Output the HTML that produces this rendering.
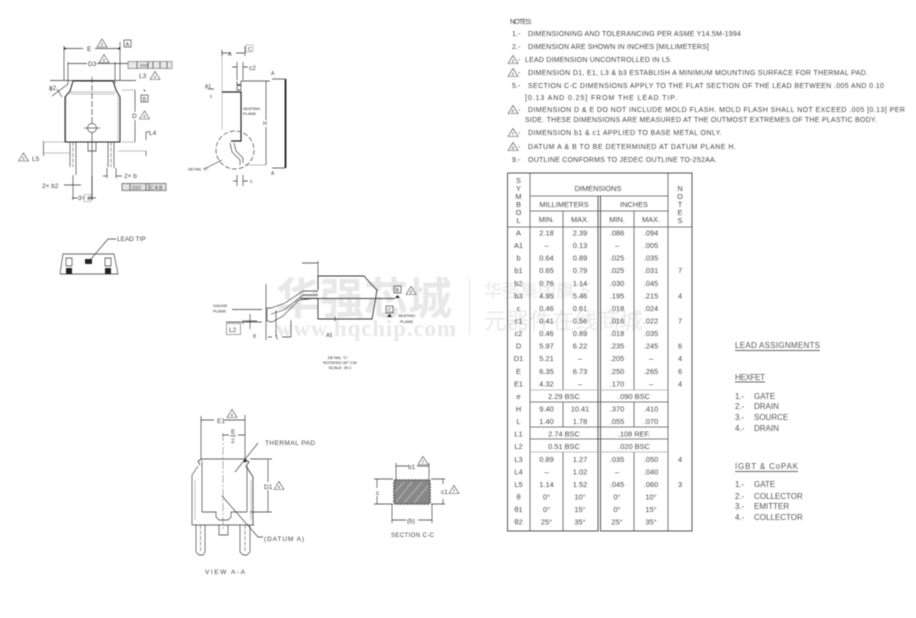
<!DOCTYPE html>
<html><head><meta charset="utf-8">
<style>
html,body{margin:0;padding:0;background:#fff;width:916px;height:618px;overflow:hidden}
svg{display:block;filter:blur(.5px)}
text{font-family:"Liberation Sans","Noto Sans CJK SC",sans-serif;fill:#444;font-size:6.500px}
.n text{font-size:7px;fill:#444;letter-spacing:.1px}
.t text{font-size:7.400px;text-anchor:middle;fill:#484848}
.l text{font-size:8px;fill:#555}
.s text{font-size:4px;fill:#222}
.m text{text-anchor:middle}
.k{fill:none;stroke:#333;stroke-width:.65}
.d{fill:none;stroke:#444;stroke-width:.55;stroke-dasharray:4 1.500}
.g{fill:none;stroke:#aaa;stroke-width:.7}
.b{fill:none;stroke:#222;stroke-width:1}
.tri{fill:#fff;stroke:#444;stroke-width:.6}
</style></head><body>
<svg width="916" height="618" viewBox="0 0 916 618" xmlns="http://www.w3.org/2000/svg">
<defs>
<g id="tr"><path class="tri" d="M-5 3.500L0-4.500 5 3.500Z"/></g>
</defs>

<!-- watermark -->
<g>
<text x="276" y="314" style="font-size:44px;font-weight:bold;fill:#e8e8e8;font-family:'Noto Sans CJK SC',sans-serif">华强芯城</text>
<text x="276" y="336" style="font-size:23px;font-weight:bold;fill:#e8e8e8;font-family:'Liberation Serif',serif" textLength="180">www.hqchip.com</text>
<line x1="469.500" y1="278" x2="469.500" y2="335" stroke="#e8e8e8"/>
<text x="484" y="297" style="font-size:18px;fill:#e9e9e9;font-family:'Noto Sans CJK SC',sans-serif">华强集团旗下</text>
<text x="484" y="329" style="font-size:22.700px;fill:#e9e9e9;font-family:'Noto Sans CJK SC',sans-serif">元器件在线商城</text>
</g>

<!-- main top view -->
<g>
<path class="g" d="M66 96V142M118 96V142M69 92H115M69 94H115M122 90H135M122 142H135M44 142H70M44 153H70M118 151H146"/>
<path class="k" d="M64 46V80M120 42V80M64 48.500H83M95 48.500H120M68 62V84M115 62V84M68 63.500H87M97 63.500H128M50 80.500H136"/>
<path class="b" d="M65 142V97L70 91 73 81H113L116 90 120 97V142H65"/>
<path class="k" d="M52 96L68 84M57 89L62 97"/>
<path class="k" d="M92 77V124" stroke-dasharray="6 2"/>
<path class="k" d="M92 133V200"/>
<circle class="k" cx="92" cy="128" r="4.500"/><path class="k" d="M84 128H100"/>
<path class="k" d="M70 142V167M76 142V175M108 142V167M114 142V168M88 142V151H96V142"/>
<path class="d" d="M73 142V167M111 142V167"/>
<path class="k" d="M135 90V112M135 120V142M146 132V140M146 151V156M43.500 141V156M146 132H149M73 175V200M92 176V200M68 185H78M107 168V178M116 168V178M103 176H107M116 176H122M64 185H70M75 185H81M72 198H78M88 198H96"/>
<path d="M117 48.500l3-1.200v2.400zM67 48.500l-3-1.200v2.400z" fill="#222"/>
<g transform="translate(102 43.500)"><use href="#tr"/></g><text x="100.500" y="46" style="font-size:4.500px">3</text>
<g transform="translate(104 59)"><use href="#tr"/></g><text x="102.500" y="61.500" style="font-size:4.500px">4</text>
<g transform="translate(155 76)"><use href="#tr"/></g><text x="153.500" y="78.500" style="font-size:4.500px">4</text>
<g transform="translate(144.500 115.500)"><use href="#tr"/></g><text x="143" y="118" style="font-size:4.500px">4</text>
<g transform="translate(23.500 157.500)"><use href="#tr"/></g><text x="22" y="160" style="font-size:4.500px">3</text>
<text x="87" y="51">E</text><text x="88" y="66">D3</text>
<text x="139" y="78">L3</text><text x="132" y="118">D</text><text x="149" y="135">L4</text><text x="32" y="161">L5</text>
<text x="49" y="90">ϕ2</text>
<rect x="124" y="40" width="7" height="7" class="k"/><text x="125.500" y="46" style="font-size:5.500px">A</text>
<rect x="141" y="95" width="7" height="7" class="k"/><text x="142.500" y="101" style="font-size:5.500px">B</text>
<path d="M143.500 90h2l-1 1.500z" fill="#111"/>
<rect x="128" y="61.500" width="44" height="7" fill="#e8e8e8" stroke="#444" stroke-width=".5"/>
<path class="k" d="M137 61.500v7M148 61.500v7M153 61.500v7M160 61.500v7M167 61.500v7"/>
<text x="139" y="67" style="font-size:4.500px">.010</text>
<text x="42" y="188">2× b2</text><text x="124" y="178">2× b</text><text x="78" y="200">3× e</text>
<rect x="122" y="183.500" width="44" height="7" fill="#e4e4e4" stroke="#333" stroke-width=".6"/>
<path class="k" d="M130 183.500v7M146 183.500v7M149 183.500v7"/>
<text x="131" y="189.500" style="font-size:5px">.010</text><text x="150" y="189.500" style="font-size:5px">C A B</text>
<rect x="84" y="194.500" width="7" height="7" class="g"/>
</g>

<!-- lead tip -->
<g>
<path class="k" d="M60 274L63 254H114L118 274H60"/>
<path class="k" d="M66 258H72V266H66ZM105 258H111V266H105Z"/>
<rect x="66" y="268" width="6" height="6" fill="#222"/><rect x="105" y="268" width="6" height="6" fill="#222"/>
<rect x="85" y="259" width="7" height="5" fill="#222"/>
<path class="k" d="M91 259L108 239H116"/>
<text x="117" y="241" style="font-size:6.500px">LEAD TIP</text>
</g>

<!-- side view -->
<g>
<path class="g" d="M222 92V130M222 50V92M245 165H266"/>
<path class="k" d="M222 50V56M222 53H231M236 53H245M245 46V56M237 62V80M243 62V80M232 67H237M243 67H248M241 81H270M266 81V120M266 127V165M272 79H285M272 168H285M237 175V186M243 175V186M233 181H237M243 181H248M208 89H214M211 95V98M237 81V90M241 81V90H237"/>
<rect x="237" y="84" width="4" height="2" fill="#666"/>
<path class="b" style="stroke-width:1.200" d="M222 92H241V141H231"/>
<path style="fill:none;stroke:#111;stroke-width:1.700" d="M285.500 79V168"/>
<path class="k" d="M230 143L232 152 240 160V165M234 143L236 151 243 158 243 163"/>
<circle cx="235" cy="150" r="19" fill="none" stroke="#444" stroke-width=".7" stroke-dasharray="5 2"/>
<path class="k" d="M204 169L222 160"/>
<text x="228" y="56" style="font-size:5.500px">A</text><rect x="246" y="45" width="7" height="7" class="g"/><text x="248" y="51" style="font-size:5.500px">C</text>
<text x="249" y="70">c2</text><text x="205" y="88" style="font-size:5.500px">ϕ1</text>
<g class="s"><text x="243" y="110">SEATING</text><text x="243" y="115">PLANE</text><text x="188" y="170.500">DETAIL "C"</text></g>
<text x="263" y="125" style="font-size:5.500px">H</text><text x="271" y="75" style="font-size:5px">A</text><text x="271" y="175" style="font-size:5px">A</text><text x="250" y="183" style="font-size:5.500px">c</text>
</g>

<!-- detail view -->
<g>
<path class="k" d="M318 261V276M302 263H318"/>
<path class="k" style="stroke-width:.9" d="M318 290V276H364L372 285 377 290 372 319H318V298"/>
<path style="fill:none;stroke:#444;stroke-width:1" d="M300 298.500H395"/>
<path class="k" d="M318 291H303L285 303 271 308H267V321L272 322 283 316 299 300 318 298"/>
<path class="k" d="M318 295H303L284 310 271 314"/>
<path class="k" d="M266 284V340M276 337V310M291 337V320M232 309.500H262M243 320V324M226 322H262M250 314V329M244 321H257M268 337H272M282 337H291M335 316V321"/>
<rect x="226.500" y="323.500" width="14" height="11" fill="#fff" stroke="#666" stroke-width=".6"/>
<text x="229" y="332" style="font-size:6.500px">L2</text>
<g class="s"><text x="213" y="307">GAUGE</text><text x="213" y="312.500">PLANE</text><text x="398" y="317">SEATING</text><text x="400" y="323">PLANE</text></g>
<text x="253" y="338" style="font-size:5.500px">θ</text><text x="276" y="339" style="font-size:5.500px">L</text><text x="326" y="337" style="font-size:5.500px">A1</text>
<rect x="394" y="286" width="7" height="7" class="k"/><text x="395.500" y="292" style="font-size:5.500px">B</text>
<g transform="translate(411 291)"><use href="#tr"/></g><text x="409.500" y="293.500" style="font-size:4.500px">8</text>
<rect x="386" y="306" width="7" height="7" class="k"/><text x="387.500" y="312" style="font-size:5.500px">C</text>
<path d="M387 317h5l-2.500-3zM395 298h5l-2.500-3z" fill="#222"/>
<g class="s m"><text x="338" y="359">DETAIL "C"</text><text x="340" y="364">ROTATED 90° CW</text><text x="340" y="369">SCALE: 30:1</text></g>
</g>

<!-- view A-A -->
<g>
<path class="k" d="M201 416V460M245 415V460M201 420H214M224 420H245M222 435H229M238 435H245"/>
<path d="M223 433V530" fill="none" stroke="#777" stroke-width=".6" stroke-dasharray="8 2 2 2"/>
<path class="k" style="stroke-width:.8" d="M200 465L198 461 202 459H245L249 462 246 466 253 477V525"/>
<path class="k" d="M202 461V512M247 466V512M202 512H216V517L219 520H228L231 517V512H247M192 475V525M192 525H254M198 466L192 475"/>
<path class="g" d="M195 480V520M251 480V520"/>
<path class="k" d="M196 525V552L199 555H203L205 552V525M240 525V552L243 555H247L250 552V525M219 525V535H228V525"/>
<path class="d" d="M200.500 525V552M245 525V552"/>
<path class="k" d="M250 459H272M250 512H272M268 460V482M268 490V512"/>
<path class="k" d="M235 472L258 443"/><path class="k" d="M222 496L258 537H263"/>
<circle cx="245" cy="461" r="1.500" fill="#333"/>
<text x="217" y="423">E1</text><text x="231" y="434">E</text><line x1="230" y1="436" x2="236" y2="436" class="k"/><text x="231" y="443">2</text>
<g transform="translate(232 414)"><use href="#tr"/></g><text x="230.500" y="416.500" style="font-size:4.500px">4</text>
<text x="265" y="445" textLength="50">THERMAL PAD</text><text x="264" y="541" textLength="40">(DATUM A)</text>
<text x="264" y="489">D1</text><g transform="translate(279 486)"><use href="#tr"/></g><text x="277.500" y="488.500" style="font-size:4.500px">4</text>
<text x="205" y="574" textLength="40">VIEW A-A</text>
</g>

<!-- section C-C -->
<g>
<rect x="394" y="480" width="36" height="24" rx="2" fill="#888" stroke="#555" stroke-width="1.600" stroke-dasharray="2 1"/>
<path d="M396 502L412 482M404 503L422 482M414 503L428 486M395 492L404 482" stroke="#c4c4c4" stroke-width=".8" fill="none"/>
<path class="k" d="M396 463V480M429 463V480M396 466H408M417 466H429M374 479H393M374 504H393M377 479V488M377 496V504M392 504V523M432 504V523M392 520H406M418 520H432M431 479H445M431 504H445M443 479V484M443 499V504"/>
<text x="408" y="469">b1</text><g transform="translate(423 461)"><use href="#tr"/></g><text x="421.500" y="463.500" style="font-size:4.500px">7</text>
<text x="376" y="495">c</text><text x="441" y="494">c1</text><g transform="translate(454 490)"><use href="#tr"/></g><text x="452.500" y="492.500" style="font-size:4.500px">7</text>
<text x="407" y="523">(b)</text><text x="391" y="537" textLength="43" style="font-size:6px">SECTION C-C</text>
</g>

<!-- notes -->
<g class="n">
<text x="510" y="24" textLength="22">NOTES:</text>
<text x="512" y="36">1.-</text><text x="528" y="36" textLength="213">DIMENSIONING AND TOLERANCING PER ASME Y14.5M-1994</text>
<text x="512" y="49">2.-</text><text x="528" y="49" textLength="181">DIMENSION ARE SHOWN IN INCHES [MILLIMETERS]</text>
<text x="518" y="62">-</text><text x="525" y="62" textLength="147">LEAD DIMENSION UNCONTROLLED IN L5.</text>
<text x="518" y="75">-</text><text x="528" y="75" textLength="340">DIMENSION D1, E1, L3 &amp; b3 ESTABLISH A MINIMUM MOUNTING SURFACE FOR THERMAL PAD.</text>
<text x="512" y="88">5.-</text><text x="528" y="88" textLength="356">SECTION C-C DIMENSIONS APPLY TO THE FLAT SECTION OF THE LEAD BETWEEN .005 AND 0.10</text>
<text x="525" y="100" textLength="152">[0.13 AND 0.25] FROM THE LEAD TIP.</text>
<text x="518" y="112">-</text><text x="528" y="112" textLength="377">DIMENSION D &amp; E DO NOT INCLUDE MOLD FLASH. MOLD FLASH SHALL NOT EXCEED .005 [0.13] PER</text>
<text x="525" y="122" textLength="352">SIDE. THESE DIMENSIONS ARE MEASURED AT THE OUTMOST EXTREMES OF THE PLASTIC BODY.</text>
<text x="518" y="135">-</text><text x="528" y="135" textLength="194">DIMENSION b1 &amp; c1 APPLIED TO BASE METAL ONLY.</text>
<text x="518" y="149">-</text><text x="528" y="149" textLength="208">DATUM A &amp; B TO BE DETERMINED AT DATUM PLANE H.</text>
<text x="512" y="162">9.-</text><text x="528" y="162" textLength="189">OUTLINE CONFORMS TO JEDEC OUTLINE TO-252AA.</text>
<g transform="translate(513 60)"><use href="#tr"/></g><text x="511.500" y="62.500" style="font-size:4.500px">3</text>
<g transform="translate(513 73)"><use href="#tr"/></g><text x="511.500" y="75.500" style="font-size:4.500px">4</text>
<g transform="translate(513 110)"><use href="#tr"/></g><text x="511.500" y="112.500" style="font-size:4.500px">6</text>
<g transform="translate(513 133)"><use href="#tr"/></g><text x="511.500" y="135.500" style="font-size:4.500px">7</text>
<g transform="translate(513 147)"><use href="#tr"/></g><text x="511.500" y="149.500" style="font-size:4.500px">8</text>
</g>

<!-- table lines -->
<g fill="none" stroke="#555" stroke-width=".8">
<path stroke-width="1" d="M507.500 173H692V531H600.500V196M598 196V531H507.500V173"/>
<path d="M530 173V531M668 173V531M530 196H668M530 211H668M507.500 227H692"/>
<path d="M563 211V390M563 402V427M563 452V531M634 211V390M634 402V427M634 452V531"/>
<path stroke="#aaa" d="M530 390H668M530 452H668"/>
<path d="M530 402H668M530 427H668M530 439H668"/>
</g>

<!-- table headers -->
<g class="t">
<text x="518.500" y="183">S</text><text x="518.500" y="191">Y</text><text x="518.500" y="199">M</text><text x="518.500" y="207">B</text><text x="518.500" y="215">O</text><text x="518.500" y="223">L</text>
<text x="680" y="191">N</text><text x="680" y="199">O</text><text x="680" y="207">T</text><text x="680" y="215">E</text><text x="680" y="223">S</text>
<text x="598" y="191">DIMENSIONS</text><text x="564" y="207">MILLIMETERS</text><text x="634" y="207">INCHES</text>
<text x="546.500" y="222">MIN.</text><text x="580" y="222">MAX.</text><text x="617" y="222">MIN.</text><text x="651" y="222">MAX.</text>
</g>

<!-- table body -->
<g class="t">
<text x="518.500" y="235.500">A</text><text x="546.500" y="235.500">2.18</text><text x="580" y="235.500">2.39</text><text x="617" y="235.500">.086</text><text x="651" y="235.500">.094</text>
<text x="518.500" y="248">A1</text><text x="546.500" y="248">–</text><text x="580" y="248">0.13</text><text x="617" y="248">–</text><text x="651" y="248">.005</text>
<text x="518.500" y="260.600">b</text><text x="546.500" y="260.600">0.64</text><text x="580" y="260.600">0.89</text><text x="617" y="260.600">.025</text><text x="651" y="260.600">.035</text>
<text x="518.500" y="273.200">b1</text><text x="546.500" y="273.200">0.65</text><text x="580" y="273.200">0.79</text><text x="617" y="273.200">.025</text><text x="651" y="273.200">.031</text><text x="680" y="273.200">7</text>
<text x="518.500" y="285.800">b2</text><text x="546.500" y="285.800">0.76</text><text x="580" y="285.800">1.14</text><text x="617" y="285.800">.030</text><text x="651" y="285.800">.045</text>
<text x="518.500" y="298.400">b3</text><text x="546.500" y="298.400">4.95</text><text x="580" y="298.400">5.46</text><text x="617" y="298.400">.195</text><text x="651" y="298.400">.215</text><text x="680" y="298.400">4</text>
<text x="518.500" y="310.900">c</text><text x="546.500" y="310.900">0.46</text><text x="580" y="310.900">0.61</text><text x="617" y="310.900">.018</text><text x="651" y="310.900">.024</text>
<text x="518.500" y="323.500">c1</text><text x="546.500" y="323.500">0.41</text><text x="580" y="323.500">0.56</text><text x="617" y="323.500">.016</text><text x="651" y="323.500">.022</text><text x="680" y="323.500">7</text>
<text x="518.500" y="336.100">c2</text><text x="546.500" y="336.100">0.46</text><text x="580" y="336.100">0.89</text><text x="617" y="336.100">.018</text><text x="651" y="336.100">.035</text>
<text x="518.500" y="348.600">D</text><text x="546.500" y="348.600">5.97</text><text x="580" y="348.600">6.22</text><text x="617" y="348.600">.235</text><text x="651" y="348.600">.245</text><text x="680" y="348.600">6</text>
<text x="518.500" y="361.200">D1</text><text x="546.500" y="361.200">5.21</text><text x="580" y="361.200">–</text><text x="617" y="361.200">.205</text><text x="651" y="361.200">–</text><text x="680" y="361.200">4</text>
<text x="518.500" y="373.800">E</text><text x="546.500" y="373.800">6.35</text><text x="580" y="373.800">6.73</text><text x="617" y="373.800">.250</text><text x="651" y="373.800">.265</text><text x="680" y="373.800">6</text>
<text x="518.500" y="386.300">E1</text><text x="546.500" y="386.300">4.32</text><text x="580" y="386.300">–</text><text x="617" y="386.300">.170</text><text x="651" y="386.300">–</text><text x="680" y="386.300">4</text>
<text x="518.500" y="398.900">e</text><text x="564" y="398.900">2.29 BSC</text><text x="634" y="398.900">.090 BSC</text>
<text x="518.500" y="411.500">H</text><text x="546.500" y="411.500">9.40</text><text x="580" y="411.500">10.41</text><text x="617" y="411.500">.370</text><text x="651" y="411.500">.410</text>
<text x="518.500" y="424">L</text><text x="546.500" y="424">1.40</text><text x="580" y="424">1.78</text><text x="617" y="424">.055</text><text x="651" y="424">.070</text>
<text x="518.500" y="436.600">L1</text><text x="564" y="436.600">2.74 BSC</text><text x="634" y="436.600">.108 REF.</text>
<text x="518.500" y="449.200">L2</text><text x="564" y="449.200">0.51 BSC</text><text x="634" y="449.200">.020 BSC</text>
<text x="518.500" y="461.800">L3</text><text x="546.500" y="461.800">0.89</text><text x="580" y="461.800">1.27</text><text x="617" y="461.800">.035</text><text x="651" y="461.800">.050</text><text x="680" y="461.800">4</text>
<text x="518.500" y="474.300">L4</text><text x="546.500" y="474.300">–</text><text x="580" y="474.300">1.02</text><text x="617" y="474.300">–</text><text x="651" y="474.300">.040</text>
<text x="518.500" y="486.900">L5</text><text x="546.500" y="486.900">1.14</text><text x="580" y="486.900">1.52</text><text x="617" y="486.900">.045</text><text x="651" y="486.900">.060</text><text x="680" y="486.900">3</text>
<text x="518.500" y="499.500">θ</text><text x="546.500" y="499.500">0°</text><text x="580" y="499.500">10°</text><text x="617" y="499.500">0°</text><text x="651" y="499.500">10°</text>
<text x="518.500" y="512">θ1</text><text x="546.500" y="512">0°</text><text x="580" y="512">15°</text><text x="617" y="512">0°</text><text x="651" y="512">15°</text>
<text x="518.500" y="524.600">θ2</text><text x="546.500" y="524.600">25°</text><text x="580" y="524.600">35°</text><text x="617" y="524.600">25°</text><text x="651" y="524.600">35°</text>
</g>

<!-- lead assignments -->
<g class="l">
<text x="735" y="348" textLength="85">LEAD ASSIGNMENTS</text><path class="k" d="M735 350.500H820"/>
<text x="735" y="380" textLength="30">HEXFET</text><path class="k" d="M735 382H765"/>
<text x="735" y="399">1.-</text><text x="754" y="399">GATE</text>
<text x="735" y="409">2.-</text><text x="754" y="409">DRAIN</text>
<text x="735" y="420">3.-</text><text x="754" y="420">SOURCE</text>
<text x="735" y="431">4.-</text><text x="754" y="431">DRAIN</text>
<text x="735" y="469" textLength="63">IGBT &amp; CoPAK</text><path class="k" d="M735 471.500H798"/>
<text x="735" y="487">1.-</text><text x="754" y="487">GATE</text>
<text x="735" y="499">2.-</text><text x="754" y="499">COLLECTOR</text>
<text x="735" y="509">3.-</text><text x="754" y="509">EMITTER</text>
<text x="735" y="520">4.-</text><text x="754" y="520">COLLECTOR</text>
</g>
</svg>
</body></html>
